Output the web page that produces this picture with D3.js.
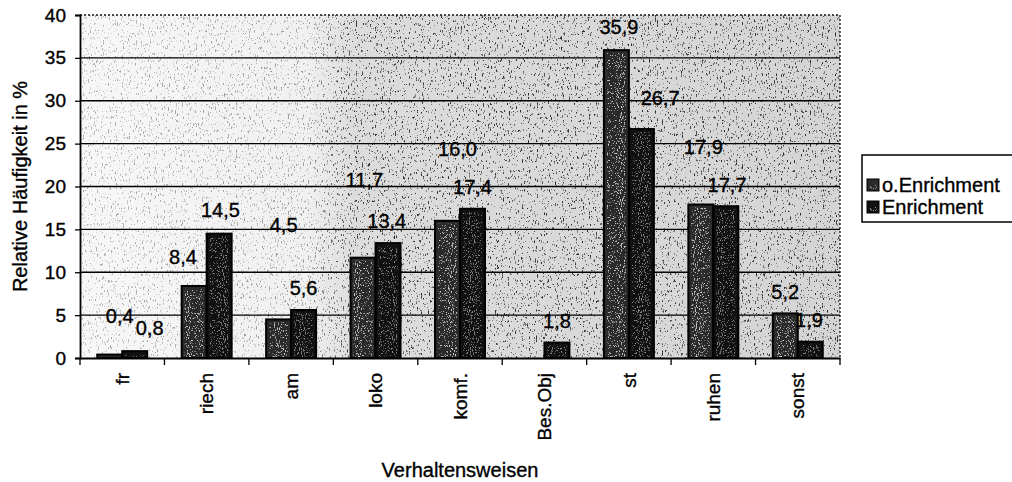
<!DOCTYPE html>
<html lang="de">
<head>
    <meta charset="UTF-8">
    <title>Verhaltensweisen</title>
    <script src="https://d3js.org/d3.v7.min.js"></script>
    <style>
        body { margin: 0; background: #fff; }
        svg text { font-family: "Liberation Sans", Arial, sans-serif; fill: #000; stroke: #000; stroke-width: 0.35px; }
    </style>
</head>
<body>
</body>
<script>
    const width = 1012;
    const height = 482;

    // Daten
    const categories = ["fr", "riech", "am", "loko", "komf.", "Bes.Obj", "st", "ruhen", "sonst"];
    const seriesNames = ["o.Enrichment", "Enrichment"];
    const valuesOhne = [0.4, 8.4, 4.5, 11.7, 16.0, null, 35.9, 17.9, 5.2];
    const valuesMit = [0.8, 14.5, 5.6, 13.4, 17.4, 1.8, 26.7, 17.7, 1.9];
    const yTicks = [0, 5, 10, 15, 20, 25, 30, 35, 40];

    // Lage der Datenbeschriftungen (in %-Einheiten, wie im Original verschoben)
    const labelYOhne = [4.9, 11.8, 15.5, 20.8, 24.4, null, 38.6, 24.6, 7.7];
    const labelYMit = [3.5, 17.3, 8.2, 16.0, 20.0, 4.3, 30.4, 20.2, 4.4];
    const labelShiftOhne = [0.4, -0.45, 0.2, 0.05, 0.4, 0, 0.1, 0.1, 0];
    const labelShiftMit = [0.6, 0.05, 0, -0.05, 0, 0, 0.75, 0.05, -0.05];

    const margin = {left: 80, right: 172, top: 15, bottom: 124};
    const x0 = d3.scaleBand().domain(categories)
        .range([margin.left, width - margin.right]).paddingInner(0).paddingOuter(0);
    const x1 = d3.scaleBand().domain(seriesNames)
        .range([0, x0.bandwidth()]).paddingInner(0).paddingOuter(0.69);
    const y = d3.scaleLinear().domain([0, 40]).range([height - margin.bottom, margin.top]);

    const fmt = v => d3.format(".1f")(v).replace(".", ",");
    const barColor = d3.scaleOrdinal().domain(seriesNames).range(["#2a2a2a", "#111111"]);

    const svg = d3.select("body").append("svg")
        .attr("width", width)
        .attr("height", height);

    const defs = svg.append("defs");
    const px = margin.left, py = margin.top;
    const pw = width - margin.right - margin.left, ph = y(0) - margin.top;

    // Hintergrund-Verlauf (Scan wirkt links heller)
    const grad = defs.append("linearGradient").attr("id", "bg").attr("x1", 0).attr("x2", 1);
    [[0, "#f7f7f7"], [0.3, "#f0f0f0"], [0.36, "#dcdcdc"], [1, "#d4d4d4"]]
        .forEach(([o, c]) => grad.append("stop").attr("offset", o).attr("stop-color", c));

    // Maske: links weniger Sprenkel
    const mgrad = defs.append("linearGradient").attr("id", "mg").attr("x1", 0).attr("x2", 1);
    [[0, "#666"], [0.3, "#777"], [0.36, "#fff"], [1, "#fff"]]
        .forEach(([o, c]) => mgrad.append("stop").attr("offset", o).attr("stop-color", c));
    defs.append("mask").attr("id", "sm")
        .attr("maskUnits", "userSpaceOnUse")
        .attr("x", px).attr("y", py).attr("width", pw).attr("height", ph)
        .append("rect")
        .attr("x", px).attr("y", py).attr("width", pw).attr("height", ph)
        .attr("fill", "url(#mg)");

    // dunkle Sprenkel im Plotbereich
    const speck = defs.append("filter").attr("id", "speck")
        .attr("filterUnits", "userSpaceOnUse")
        .attr("x", px).attr("y", py).attr("width", pw).attr("height", ph);
    speck.append("feTurbulence").attr("type", "fractalNoise")
        .attr("baseFrequency", "0.85 0.3").attr("numOctaves", 3).attr("seed", 7);
    speck.append("feColorMatrix").attr("type", "matrix")
        .attr("values", "0 0 0 0 0  0 0 0 0 0  0 0 0 0 0  1 0 0 0 0");
    speck.append("feComponentTransfer").append("feFuncA").attr("type", "discrete")
        .attr("tableValues", "0 0 0 0 0 0 0 0 0 0 0 0 0 0.5 0.8 1 1 1 1 1");

    // helle Sprenkel in den Balken
    const wspeck = defs.append("filter").attr("id", "wspeck")
        .attr("filterUnits", "userSpaceOnUse")
        .attr("x", 0).attr("y", 0).attr("width", width).attr("height", height);
    wspeck.append("feTurbulence").attr("type", "fractalNoise")
        .attr("baseFrequency", "0.95 0.6").attr("numOctaves", 2).attr("seed", 3);
    wspeck.append("feColorMatrix").attr("type", "matrix")
        .attr("values", "0 0 0 0 1  0 0 0 0 1  0 0 0 0 1  1 0 0 0 0");
    wspeck.append("feComponentTransfer").append("feFuncA").attr("type", "discrete")
        .attr("tableValues", "0 0 0 0 0 0 0 0 0 0 0 0 0.5 0.8 1 1 1 1 1 1");
    wspeck.append("feComposite").attr("operator", "in").attr("in2", "SourceGraphic");

    // Plotbereich
    svg.append("rect")
        .attr("x", px).attr("y", py).attr("width", pw).attr("height", ph)
        .attr("fill", "url(#bg)");
    svg.append("rect")
        .attr("x", px).attr("y", py).attr("width", pw).attr("height", ph)
        .attr("fill", "#000").attr("opacity", 0.8)
        .attr("mask", "url(#sm)")
        .attr("filter", "url(#speck)");

    // Gitternetzlinien
    svg.append("g").selectAll("line")
        .data(yTicks.filter(t => t > 0 && t < 40))
        .enter().append("line")
        .attr("x1", px).attr("x2", px + pw)
        .attr("y1", d => y(d)).attr("y2", d => y(d))
        .attr("stroke", "#000").attr("stroke-width", 1.3);

    // Rahmen oben/rechts gepunktet
    svg.append("path")
        .attr("d", `M${px},${py}H${px + pw}V${y(0)}`)
        .attr("fill", "none").attr("stroke", "#111")
        .attr("stroke-width", 1.3).attr("stroke-dasharray", "2,2");

    // Balken
    const rows = categories.map((c, i) => ({
        cat: c,
        bars: [
            {s: seriesNames[0], v: valuesOhne[i], ly: labelYOhne[i], sh: labelShiftOhne[i]},
            {s: seriesNames[1], v: valuesMit[i], ly: labelYMit[i], sh: labelShiftMit[i]}
        ]
    }));

    const groups = svg.append("g").selectAll("g")
        .data(rows)
        .enter().append("g")
        .attr("transform", d => `translate(${x0(d.cat)},0)`);

    const bars = groups.selectAll("g.bar")
        .data(d => d.bars.filter(b => b.v != null))
        .enter().append("g").attr("class", "bar");

    bars.append("rect")
        .attr("x", d => x1(d.s))
        .attr("y", d => y(d.v))
        .attr("width", x1.bandwidth())
        .attr("height", d => y(0) - y(d.v))
        .attr("fill", d => barColor(d.s))
        .attr("stroke", "#000").attr("stroke-width", 2);
    bars.append("rect")
        .attr("x", d => x1(d.s) + 3)
        .attr("y", d => y(d.v) + 3)
        .attr("width", x1.bandwidth() - 6)
        .attr("height", d => Math.max(0, y(0) - y(d.v) - 4))
        .attr("fill", "#fff")
        .attr("opacity", d => d.s === seriesNames[0] ? 0.75 : 0.5)
        .attr("filter", "url(#wspeck)");

    // Datenbeschriftungen
    bars.append("text")
        .attr("x", d => x1(d.s) + x1.bandwidth() / 2 + d.sh * x1.bandwidth())
        .attr("y", d => y(d.ly))
        .attr("dy", "0.36em")
        .attr("text-anchor", "middle")
        .attr("font-size", 20)
        .text(d => fmt(d.v));

    // Achsen
    const yAxis = svg.append("g")
        .attr("transform", `translate(${px},0)`)
        .call(d3.axisLeft(y).tickValues(yTicks).tickSize(5).tickPadding(9));
    yAxis.select(".domain").attr("stroke", "#000").attr("stroke-width", 1.8);
    yAxis.selectAll(".tick line").attr("stroke", "#000").attr("stroke-width", 1.3);
    yAxis.selectAll(".tick text").attr("font-size", 19)
        .attr("font-family", "Liberation Sans, Arial, sans-serif");

    const xAxis = svg.append("g")
        .attr("transform", `translate(0,${y(0)})`)
        .call(d3.axisBottom(x0).tickSize(0).tickFormat(""));
    xAxis.select(".domain").attr("stroke", "#000").attr("stroke-width", 1.8);
    xAxis.selectAll(".tick").remove();

    // Teilstriche an den Kategoriegrenzen
    const bounds = categories.map(c => x0(c)).concat([x0.range()[1]]);
    xAxis.selectAll("line.sep")
        .data(bounds)
        .enter().append("line").attr("class", "sep")
        .attr("x1", d => d).attr("x2", d => d)
        .attr("y1", 0).attr("y2", 7)
        .attr("stroke", "#000").attr("stroke-width", 1.3);

    // Kategorien (gedreht)
    svg.append("g").selectAll("text")
        .data(categories)
        .enter().append("text")
        .attr("transform", d => `translate(${x0(d) + x0.bandwidth() / 2},${y(0) + 15}) rotate(-90)`)
        .attr("text-anchor", "end")
        .attr("dy", "0.35em")
        .attr("font-size", 19)
        .text(d => d);

    // Achsentitel
    svg.append("text")
        .attr("x", px + pw / 2)
        .attr("y", 477)
        .attr("text-anchor", "middle")
        .attr("font-size", 20)
        .text("Verhaltensweisen");

    svg.append("text")
        .attr("transform", `translate(20,${py + ph / 2}) rotate(-90)`)
        .attr("text-anchor", "middle")
        .attr("dy", "0.35em")
        .attr("font-size", 20)
        .text("Relative Häufigkeit in %");

    // Legende
    const legend = svg.append("g").attr("transform", "translate(862,155)");
    legend.append("rect")
        .attr("width", 170).attr("height", 67)
        .attr("fill", "#fff").attr("stroke", "#000").attr("stroke-width", 1.5);
    const li = legend.selectAll("g.item")
        .data(seriesNames)
        .enter().append("g").attr("class", "item")
        .attr("transform", (d, i) => `translate(5,${30 + i * 22})`);
    li.append("rect")
        .attr("x", 0).attr("y", -6).attr("width", 12).attr("height", 12)
        .attr("fill", d => barColor(d)).attr("stroke", "#000");
    li.append("rect")
        .attr("x", 2).attr("y", -4).attr("width", 8).attr("height", 8)
        .attr("fill", "#fff").attr("opacity", 0.6)
        .attr("filter", "url(#wspeck)");
    li.append("text")
        .attr("x", 15).attr("dy", "0.35em")
        .attr("font-size", 20)
        .text(d => d);
</script>
</html>
